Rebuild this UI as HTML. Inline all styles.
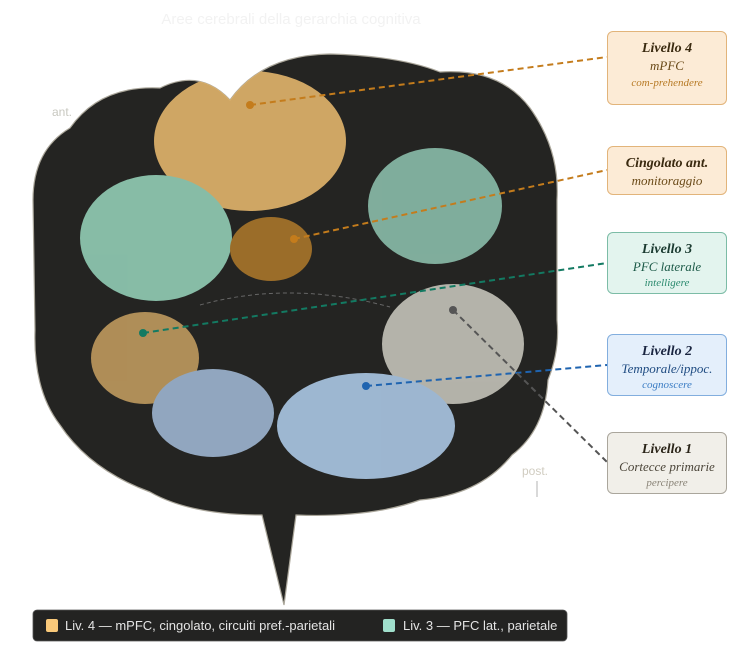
<!DOCTYPE html>
<html><head><meta charset="utf-8"><style>
body{margin:0;background:#fff;width:742px;height:655px;overflow:hidden;position:relative;font-family:"Liberation Sans",sans-serif}
.box{position:absolute;left:607px;width:120px;border-radius:6px;border:1.5px solid;text-align:center;font-family:"Liberation Serif",serif;font-style:italic;box-sizing:border-box}
.t{font-weight:bold;font-size:14px;color:#3a2a10;margin-top:9px}
.s{font-size:13px;margin-top:1px}
.k{font-size:11px;margin-top:3px}
</style></head><body>
<svg width="742" height="655" style="position:absolute;left:0;top:0">
<defs><clipPath id="b"><path id="bp" d="M70,128 Q100,85 160,88 Q200,68 230,100 Q262,55 330,54 Q400,56 440,72 Q500,68 530,108 Q560,150 557,200 L557,320 Q560,350 548,380 Q545,430 512,455 Q480,495 420,500 Q370,518 296,515 L284,605 L262,515 Q190,515 150,492 Q90,470 60,425 Q33,390 35,330 L33,200 Q33,150 70,128 Z"/></clipPath></defs>
<text x="291" y="24" text-anchor="middle" font-size="15" fill="#f2f2f2">Aree cerebrali della gerarchia cognitiva</text>
<text x="52" y="116" font-size="12" fill="#c8c8c0">ant.</text>
<text x="522" y="475" font-size="12" fill="#d0ccc0">post.</text>
<line x1="537" y1="481" x2="537" y2="497" stroke="#ccc" stroke-width="1.5"/>
<use href="#bp" fill="#242422" stroke="#aaa69a" stroke-width="1.2"/>
<g opacity="0.9" clip-path="url(#b)">
<ellipse cx="250" cy="141" rx="96" ry="70" fill="#e2b56c"/>
<ellipse cx="156" cy="238" rx="76" ry="63" fill="#92cdb5"/>
<ellipse cx="271" cy="249" rx="41" ry="32" fill="#a8752a"/>
<ellipse cx="435" cy="206" rx="67" ry="58" fill="#8abcaa"/>
<ellipse cx="453" cy="344" rx="71" ry="60" fill="#c4c3b9"/>
<ellipse cx="145" cy="358" rx="54" ry="46" fill="#bf9a5e"/>
<ellipse cx="213" cy="413" rx="61" ry="44" fill="#9db5d0"/>
<ellipse cx="366" cy="426" rx="89" ry="53" fill="#abc7e4"/>
</g>
<path d="M200,305 Q290,280 390,307" fill="none" stroke="#666" stroke-dasharray="4,3" stroke-width="1"/>
<g stroke-width="2" stroke-dasharray="6,4" fill="none">
<line x1="250" y1="105" x2="607" y2="57" stroke="#c47c1c"/>
<line x1="294" y1="239" x2="607" y2="170" stroke="#c47c1c"/>
<line x1="143" y1="333" x2="607" y2="263" stroke="#137a62"/>
<line x1="366" y1="386" x2="607" y2="365" stroke="#1f64b0"/>
<line x1="453" y1="310" x2="607" y2="462" stroke="#555"/>
</g>
<circle cx="250" cy="105" r="4" fill="#c47c1c"/>
<circle cx="294" cy="239" r="4" fill="#c47c1c"/>
<circle cx="143" cy="333" r="4" fill="#137a62"/>
<circle cx="366" cy="386" r="4" fill="#1f64b0"/>
<circle cx="453" cy="310" r="4" fill="#555"/>
<rect x="33" y="610" width="534" height="31" rx="4" fill="#232322" stroke="#555" stroke-width="0.8"/>
<rect x="46" y="619" width="12" height="13" rx="2" fill="#f9c97a"/>
<text x="65" y="630" font-size="13" fill="#e4e4e4">Liv. 4 — mPFC, cingolato, circuiti pref.-parietali</text>
<rect x="383" y="619" width="12" height="13" rx="2" fill="#a0dfcc"/>
<text x="403" y="630" font-size="13" fill="#e4e4e4">Liv. 3 — PFC lat., parietale</text>
</svg>
<div class="box" style="top:31px;height:74px;background:#fcebd6;border-color:#e2b47a"><div class="t">Livello 4</div><div class="s" style="color:#6a4a18">mPFC</div><div class="k" style="color:#b77a25">com-prehendere</div></div>
<div class="box" style="top:146px;height:49px;background:#fcebd6;border-color:#e2b47a"><div class="t">Cingolato ant.</div><div class="s" style="color:#6a4a18">monitoraggio</div></div>
<div class="box" style="top:232px;height:62px;background:#e3f4ee;border-color:#7cbca6"><div class="t" style="color:#1a3a30">Livello 3</div><div class="s" style="color:#1d5a48">PFC laterale</div><div class="k" style="color:#2b8a6e;margin-top:2px">intelligere</div></div>
<div class="box" style="top:334px;height:62px;background:#e4effb;border-color:#82aede"><div class="t" style="color:#1a2540">Livello 2</div><div class="s" style="color:#1d4a80">Temporale/ippoc.</div><div class="k" style="color:#3a7cc4;margin-top:2px">cognoscere</div></div>
<div class="box" style="top:432px;height:62px;background:#f1efe9;border-color:#aaa69c"><div class="t" style="color:#2a2418">Livello 1</div><div class="s" style="color:#4a4438">Cortecce primarie</div><div class="k" style="color:#8a8478;margin-top:2px">percipere</div></div>
</body></html>
